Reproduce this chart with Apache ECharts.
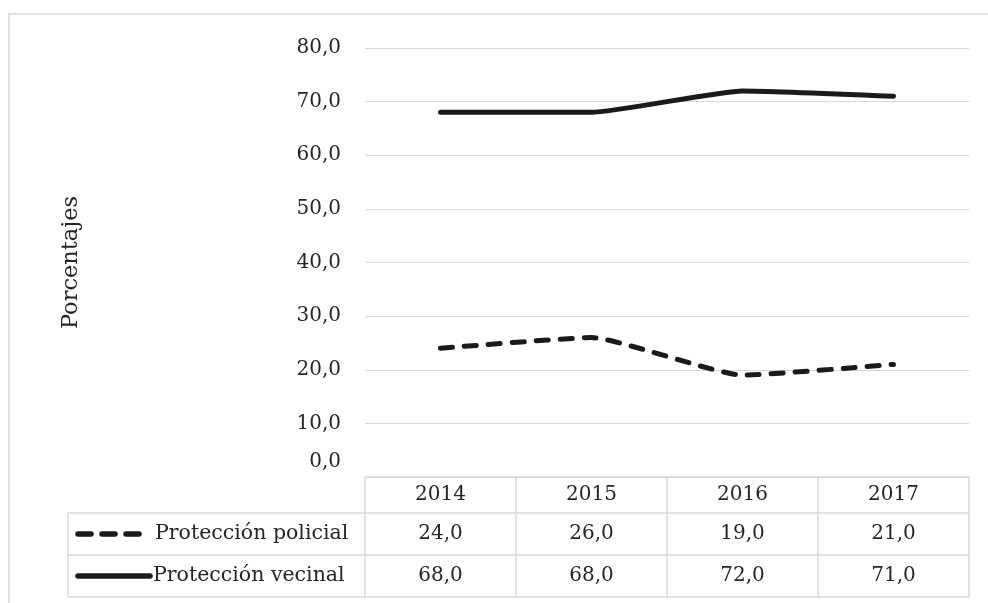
<!DOCTYPE html>
<html>
<head>
<meta charset="utf-8">
<script src="https://cdn.jsdelivr.net/npm/echarts@6/dist/echarts.min.js"></script>
<style>
  html, body { margin: 0; padding: 0; background: #fff; }
  #chart { width: 988px; height: 603px; }
</style>
</head>
<body>
<div id="chart"></div>
<script>
// Categories and series values
const years = ['2014', '2015', '2016', '2017'];
const seriesNames = ['Protección policial', 'Protección vecinal'];
const policial = [24.0, 26.0, 19.0, 21.0];
const vecinal = [68.0, 68.0, 72.0, 71.0];
const yMin = 0, yMax = 80, yStep = 10;
const yTitle = 'Porcentajes';

const FONT = 'DejaVu Serif';
const TEXT = '#262626';
const RULE = '#d9d9d9';
const INK = '#1a1a1a';
const DASH = [12, 12];
const NUM_SIZE = 20;

const fmt = v => v.toFixed(1).replace('.', ',');

const chart = echarts.init(document.getElementById('chart'), null, { renderer: 'canvas' });

chart.setOption({
  backgroundColor: '#ffffff',
  animation: false,
  grid: { left: 365, right: 19, top: 48, bottom: 126 },
  xAxis: {
    type: 'category',
    data: years,
    boundaryGap: true,
    axisLine: { show: false },
    axisTick: { show: false },
    axisLabel: { margin: 8, fontFamily: FONT, fontSize: NUM_SIZE, color: TEXT }
  },
  yAxis: {
    type: 'value',
    min: yMin,
    max: yMax,
    interval: yStep,
    name: yTitle,
    nameLocation: 'middle',
    nameGap: 282,
    nameRotate: 90,
    nameTextStyle: { fontFamily: FONT, fontSize: 22.5, color: TEXT },
    axisLine: { show: false },
    axisTick: { show: false },
    splitLine: { lineStyle: { color: RULE, width: 1 } },
    axisLabel: {
      margin: 24,
      fontFamily: FONT,
      fontSize: NUM_SIZE,
      color: TEXT,
      formatter: v => v === 0 ? '{z|' + fmt(v) + '}' : fmt(v),
      rich: { z: { fontFamily: FONT, fontSize: NUM_SIZE, color: TEXT, padding: [0, 0, 30, 0] } }
    }
  },
  series: [
    {
      name: seriesNames[0],
      type: 'line',
      data: policial,
      smooth: 0.15,
      symbol: 'none',
      lineStyle: { color: INK, width: 5, type: DASH, cap: 'round' }
    },
    {
      name: seriesNames[1],
      type: 'line',
      data: vecinal,
      smooth: 0.15,
      symbol: 'none',
      lineStyle: { color: INK, width: 5, type: 'solid', cap: 'round' }
    }
  ]
});

// Data table under the plot, laid out from the category axis
function drawTable() {
  const c0 = chart.convertToPixel({ xAxisIndex: 0 }, 0);
  const c1 = chart.convertToPixel({ xAxisIndex: 0 }, 1);
  const band = c1 - c0;
  const yTop = chart.convertToPixel({ yAxisIndex: 0 }, yMin);
  const rowH = [36, 42, 42];
  const r1 = yTop + rowH[0];
  const r2 = r1 + rowH[1];
  const r3 = r2 + rowH[2];
  const tableLeft = 68;
  const colLeft = c0 - band / 2;
  const colRight = c0 + band * (years.length - 0.5);

  const els = [];
  const rule = (x1, y1, x2, y2) => els.push({
    type: 'line', silent: true,
    shape: { x1, y1, x2, y2 },
    style: { stroke: RULE, lineWidth: 1.5 }
  });

  rule(colLeft, yTop, colRight, yTop);
  rule(tableLeft, r1, colRight, r1);
  rule(tableLeft, r2, colRight, r2);
  rule(tableLeft, r3, colRight, r3);
  rule(tableLeft, r1, tableLeft, r3);
  for (let i = 0; i <= years.length; i++) {
    rule(colLeft + band * i, yTop, colLeft + band * i, r3);
  }

  const rows = [policial, vecinal];
  const rowMid = [(r1 + r2) / 2, (r2 + r3) / 2];
  rows.forEach((vals, ri) => {
    const yc = rowMid[ri];
    // legend key: line sample and series name
    els.push({
      type: 'line', silent: true,
      shape: { x1: 78, y1: yc, x2: ri === 0 ? 146 : 150, y2: yc },
      style: { stroke: INK, lineWidth: 5.5, lineCap: 'round', lineDash: ri === 0 ? [13, 11] : null }
    });
    els.push({
      type: 'text', silent: true,
      x: ri === 0 ? 155 : 153, y: yc,
      style: {
        text: seriesNames[ri], fontFamily: FONT, fontSize: 20.5, fill: TEXT,
        align: 'left', verticalAlign: 'middle'
      }
    });
    vals.forEach((v, ci) => {
      els.push({
        type: 'text', silent: true,
        x: chart.convertToPixel({ xAxisIndex: 0 }, ci),
        y: yc,
        style: {
          text: fmt(v), fontFamily: FONT, fontSize: NUM_SIZE, fill: TEXT,
          align: 'center', verticalAlign: 'middle'
        }
      });
    });
  });

  // Outer frame
  rule(8, 14, 988, 14);
  rule(9, 14, 9, 603);

  chart.setOption({ graphic: { elements: els } });
}
drawTable();
</script>
</body>
</html>
